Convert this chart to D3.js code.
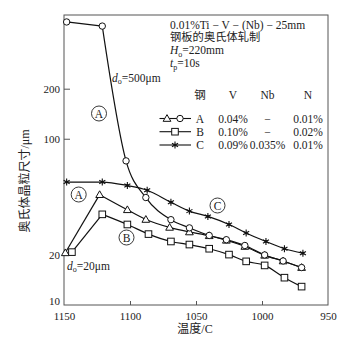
<!DOCTYPE html>
<html><head><meta charset="utf-8">
<script src="https://cdn.jsdelivr.net/npm/d3@7"></script>
<style>
body{margin:0;background:#fff;}
svg text{font-family:"Liberation Serif","Noto Sans CJK SC",serif;fill:#222;}
</style></head>
<body>
<svg id="c" width="354" height="350"></svg>
<script>
// ---- data ----
const tempsA500 = [1148, 1121, 1103, 1088, 1069, 1055, 1040, 1027, 1013, 998, 984, 970];
const sizesA500 = [504, 476, 73.6, 44.3, 32.6, 29.1, 26.2, 24.7, 22.8, 20.0, 18.4, 16.8];
const tempsA20  = [1149, 1123, 1102, 1088, 1070, 1055, 1040, 1027, 1013, 998, 984, 970];
const sizesA20  = [20.6, 46.1, 37.4, 32.7, 29.3, 27.5, 26.1, 24.5, 22.5, 19.9, 18.4, 16.8];
const tempsB    = [1144, 1121, 1102, 1086, 1069, 1055, 1040, 1025, 1012, 998, 983, 970];
const sizesB    = [20.8, 35.1, 30.5, 26.7, 24.1, 23.1, 21.8, 20.1, 18.3, 17.3, 14.6, 12.9];
const tempsC    = [1148, 1121, 1102, 1087, 1069, 1055, 1041, 1025, 1012, 997, 983, 969];
const sizesC    = [54.9, 54.9, 52.3, 49.0, 41.5, 36.7, 34.1, 30.5, 27.1, 24.1, 21.8, 20.5];
const xTicks = [1150, 1100, 1050, 1000, 950];
const yTicks = [10, 20, 100, 200];
const legendHeader = ["钢", "V", "Nb", "N"];
const legendRows = [["A", "0.04%", "−", "0.01%"], ["B", "0.10%", "−", "0.02%"], ["C", "0.09%", "0.035%", "0.01%"]];

const svg = d3.select("#c");
const x = d3.scaleLinear().domain([1150, 950]).range([64, 328]);
const y = d3.scaleLog().domain([10, 555]).range([305, 15]);

// frame
svg.append("rect").attr("x", 64).attr("y", 15).attr("width", 264).attr("height", 290)
  .attr("fill", "none").attr("stroke", "#555").attr("stroke-width", 1);

// x axis ticks (inward)
const xAx = svg.append("g").attr("transform", "translate(0,305)")
  .call(d3.axisBottom(x).tickValues(xTicks).tickSize(-4).tickPadding(7).tickFormat(d3.format("d")));
xAx.select(".domain").remove();
xAx.selectAll("line").attr("stroke", "#555");
xAx.selectAll("text").attr("font-size", 11).attr("font-family", "Liberation Serif").attr("fill", "#222");
xAx.selectAll(".tick").filter(d => d === 1150 || d === 950).select("line").remove();

// y axis
const yAx = svg.append("g").attr("transform", "translate(64,0)")
  .call(d3.axisLeft(y).tickValues(yTicks).tickSize(-6).tickPadding(4).tickFormat(d3.format("d")));
yAx.select(".domain").remove();
yAx.selectAll("line").attr("stroke", "#555");
yAx.selectAll(".tick").filter(d => d === 10 || d === 20).select("line").remove();
yAx.selectAll("text").attr("font-size", 11).attr("font-family", "Liberation Serif").attr("fill", "#222");
yAx.selectAll(".tick").filter(d => d === 10).select("text").attr("dy", "-0.05em");

// series
function series(ts, vs, shape, splitFirst) {
  const pts = ts.map((t, i) => [x(t), y(vs[i])]);
  const g = svg.append("g");
  if (splitFirst) {
    g.append("path").attr("d", d3.line()(pts.slice(0, 2)))
      .attr("fill", "none").attr("stroke", "#111").attr("stroke-width", 1.2);
    g.append("path").attr("d", d3.line().curve(d3.curveMonotoneX)(pts.slice(1)))
      .attr("fill", "none").attr("stroke", "#111").attr("stroke-width", 1.2);
  } else {
    g.append("path").attr("d", d3.line().curve(d3.curveMonotoneX)(pts))
      .attr("fill", "none").attr("stroke", "#111").attr("stroke-width", 1.2);
  }
  pts.forEach(p => drawMarker(g, p[0], p[1], shape));
}
function drawMarker(g, cx, cy, shape) {
  if (shape === "circle") {
    g.append("circle").attr("cx", cx).attr("cy", cy).attr("r", 3.2)
      .attr("fill", "#fff").attr("stroke", "#111").attr("stroke-width", 1);
  } else if (shape === "triangle") {
    g.append("path").attr("transform", `translate(${cx},${cy + 0.6})`)
      .attr("d", d3.symbol(d3.symbolTriangle, 26)())
      .attr("fill", "#fff").attr("stroke", "#111").attr("stroke-width", 1);
  } else if (shape === "square") {
    g.append("rect").attr("x", cx - 3.3).attr("y", cy - 3.3).attr("width", 6.6).attr("height", 6.6)
      .attr("fill", "#fff").attr("stroke", "#111").attr("stroke-width", 1);
  } else if (shape === "star") {
    g.append("path").attr("transform", `translate(${cx},${cy})`)
      .attr("d", d3.symbol(d3.symbolAsterisk, 34)())
      .attr("fill", "none").attr("stroke", "#111").attr("stroke-width", 1.1);
    g.append("circle").attr("cx", cx).attr("cy", cy).attr("r", 1.3).attr("fill", "#111");
  }
}
series(tempsC, sizesC, "star", false);
series(tempsB, sizesB, "square", true);
series(tempsA20, sizesA20, "triangle", true);
series(tempsA500, sizesA500, "circle", true);

// circled letters
function circled(cx, cy, letter) {
  svg.append("circle").attr("cx", cx).attr("cy", cy).attr("r", 7.5)
    .attr("fill", "#fff").attr("stroke", "#222").attr("stroke-width", 0.9);
  svg.append("text").attr("x", cx).attr("y", cy + 4).attr("text-anchor", "middle")
    .attr("font-size", 11.5).text(letter);
}
circled(99, 113.5, "A");
circled(78.7, 194.5, "A");
circled(126.5, 237.5, "B");
circled(217.5, 205.5, "C");

// d0 labels
function d0(xp, yp, rest) {
  const t = svg.append("text").attr("x", xp).attr("y", yp).attr("font-size", 11.5);
  t.append("tspan").attr("font-style", "italic").text("d");
  t.append("tspan").attr("font-size", 8).attr("dy", 2.5).text("o");
  t.append("tspan").attr("dy", -2.5).text(rest);
}
d0(112, 81.5, "=500μm");
d0(67, 269.5, "=20μm");

// top-right text block
svg.append("text").attr("x", 170).attr("y", 29).attr("font-size", 11.5).text("0.01%Ti − V − (Nb) − 25mm");
svg.append("text").attr("x", 170).attr("y", 41).attr("font-size", 11.3).text("钢板的奥氏体轧制");
{
  const t = svg.append("text").attr("x", 170).attr("y", 54).attr("font-size", 11.5);
  t.append("tspan").attr("font-style", "italic").text("H");
  t.append("tspan").attr("font-size", 8).attr("dy", 2.5).text("o");
  t.append("tspan").attr("dy", -2.5).text("=220mm");
  const t2 = svg.append("text").attr("x", 170).attr("y", 67).attr("font-size", 11.5);
  t2.append("tspan").attr("font-style", "italic").text("t");
  t2.append("tspan").attr("font-size", 8).attr("dy", 2.5).text("p");
  t2.append("tspan").attr("dy", -2.5).text("=10s");
}

// legend table
const colX = [200, 233, 267.5, 308];
legendHeader.forEach((h, i) => {
  svg.append("text").attr("x", colX[i]).attr("y", 98.5).attr("text-anchor", "middle")
    .attr("font-size", 11.5).text(h);
});
const rowY = [118.5, 131.7, 145];
const rowShapes = [["triangle", "circle"], ["square"], ["star"]];
legendRows.forEach((r, i) => {
  svg.append("line").attr("x1", 159.5).attr("x2", 191).attr("y1", rowY[i]).attr("y2", rowY[i])
    .attr("stroke", "#111").attr("stroke-width", 1.1);
  if (i === 0) {
    drawMarker(svg, 167, rowY[i], "triangle");
    drawMarker(svg, 180, rowY[i], "circle");
  } else {
    drawMarker(svg, 175, rowY[i], rowShapes[i][0]);
  }
  r.forEach((v, j) => {
    svg.append("text").attr("x", colX[j]).attr("y", rowY[i] + 4).attr("text-anchor", "middle")
      .attr("font-size", 11.5).text(v);
  });
});

// axis titles
svg.append("text").attr("x", 195).attr("y", 333).attr("text-anchor", "middle")
  .attr("font-size", 12).text("温度/C");
svg.append("text").attr("transform", "translate(29,181) rotate(-90)").attr("text-anchor", "middle")
  .attr("font-size", 12).text("奥氏体晶粒尺寸/μm");
</script>
</body></html>
